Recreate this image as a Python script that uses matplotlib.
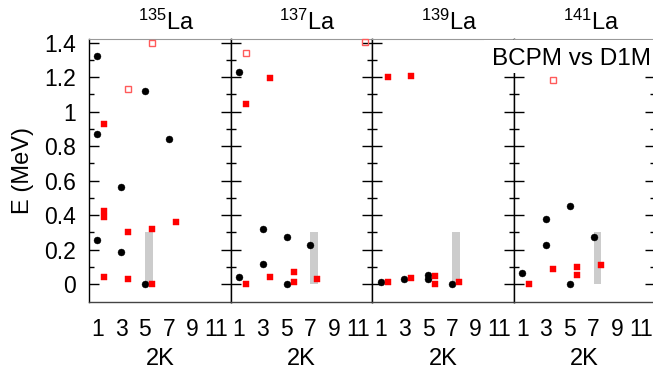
import numpy as np
import matplotlib
matplotlib.use("Agg")
import matplotlib.pyplot as plt
from matplotlib.patches import Rectangle

plt.rcParams["font.family"] = ["Liberation Sans", "DejaVu Sans"]
plt.rcParams["mathtext.fontset"] = "custom"
plt.rcParams["mathtext.rm"] = "Liberation Sans"
plt.rcParams["mathtext.it"] = "Liberation Sans:italic"

# nuclei (mass numbers) for the four panels
nuclei = ["135", "137", "139", "141"]

# BCPM (black dots): 2K and excitation energy (MeV)
bcpm_2k = [
    [1, 1, 1, 3, 3, 5, 5, 7],
    [1, 1, 3, 3, 5, 5, 7],
    [1, 3, 5, 5, 7],
    [1, 3, 3, 5, 5, 7],
]
bcpm_e = [
    [1.32, 0.87, 0.255, 0.563, 0.184, 1.12, 0.0, 0.84],
    [1.228, 0.042, 0.317, 0.114, 0.271, 0.0, 0.226],
    [0.013, 0.031, 0.05, 0.027, 0.0],
    [0.066, 0.375, 0.226, 0.452, 0.0, 0.274],
]

# D1M (red filled squares)
d1m_2k = [
    [1, 1, 1, 1, 3, 3, 5, 5, 7],
    [1, 1, 3, 3, 5, 5, 7],
    [1, 1, 3, 3, 5, 5, 7],
    [1, 3, 5, 5, 7],
]
d1m_e = [
    [0.928, 0.425, 0.39, 0.039, 0.30, 0.029, 0.317, 0.0, 0.36],
    [1.042, 0.0, 1.193, 0.039, 0.068, 0.01, 0.027],
    [1.199, 0.013, 1.208, 0.033, 0.045, 0.0, 0.01],
    [0.0, 0.085, 0.097, 0.05, 0.108],
]

# D1M (red open squares)
d1m_open_2k = [[3, 5], [1, 11], [], [3]]
d1m_open_e = [[1.133, 1.40], [1.342, 1.405], [], [1.183]]

# grey band (experimental ground-state band window)
band_2k = [5, 7, 7, 7]
band_top = [0.3, 0.3, 0.3, 0.3]

xticks = [1, 3, 5, 7, 9, 11]
yticks = [0, 0.2, 0.4, 0.6, 0.8, 1.0, 1.2, 1.4]
ytick_labels = ["0", "0.2", "0.4", "0.6", "0.8", "1", "1.2", "1.4"]

W, H = 653, 373
fig = plt.figure(figsize=(W / 100, H / 100), dpi=100)

left_px, top_px, bottom_px = 89, 39, 302
panel_w = 141.6
red_shift = 0.6

for i, nuc in enumerate(nuclei):
    x0 = left_px + i * panel_w
    ax = fig.add_axes([x0 / W, (H - bottom_px) / H, panel_w / W,
                       (bottom_px - top_px) / H])

    ax.bar(band_2k[i], band_top[i], width=0.65, align="edge",
           color="#cccccc", zorder=1)
    ax.plot(bcpm_2k[i], bcpm_e[i], "o", color="black", ms=5, mew=0.3,
            zorder=3)
    ax.plot(np.array(d1m_2k[i]) + red_shift, d1m_e[i], "s", color="red",
            ms=5, mew=0.3, zorder=3)
    if d1m_open_2k[i]:
        ax.plot(np.array(d1m_open_2k[i]) + red_shift, d1m_open_e[i], "s",
                mfc="none", mec="#ff5a5a", ms=5, mew=1.0, zorder=3,
                clip_on=False)

    ax.set_xlim(0.3, 12.2)
    ax.set_ylim(-0.104, 1.421)
    ax.set_xticks(xticks)
    ax.set_xticklabels([str(t) for t in xticks])
    ax.set_yticks(yticks)
    ax.set_yticks(np.arange(0.1, 1.41, 0.2), minor=True)
    ax.tick_params(axis="x", length=0, labelsize=16.5, pad=11.5)
    ax.tick_params(axis="y", which="both", direction="in", left=True,
                   right=True, labelsize=16.5, pad=9.5, width=1.0)
    ax.tick_params(axis="y", which="major", length=7.2)
    ax.tick_params(axis="y", which="minor", length=3.6)
    if i == 0:
        ax.set_yticklabels(ytick_labels)
    else:
        ax.set_yticklabels([])

    for side in ["left", "right"]:
        ax.spines[side].set_color("black")
        ax.spines[side].set_linewidth(1.0)
    ax.spines["top"].set_color("#999999")
    ax.spines["top"].set_linewidth(0.8)
    ax.spines["bottom"].set_color("#444444")
    ax.spines["bottom"].set_linewidth(1.0)

    ax.text(0.545, 1.034, r"$^{" + nuc + r"}$La", transform=ax.transAxes,
            ha="center", va="baseline", fontsize=17)
    ax.text(0.5, -0.2395, "2K", transform=ax.transAxes, ha="center",
            va="baseline", fontsize=17)

fig.text(22.5 / W, (H - 171) / H, "E (MeV)", rotation=90, ha="center",
         va="center", fontsize=17)

# white key box covering the upper-right corner
box = Rectangle((484 / W, (H - 73) / H), (W - 484) / W, (73 - 39.8) / H,
                transform=fig.transFigure, facecolor="white",
                edgecolor="none", zorder=4)
fig.add_artist(box)
fig.text(651 / W, (H - 65) / H, "BCPM vs D1M", ha="right", va="baseline",
         fontsize=17.5, zorder=5)

fig.savefig("out.png", dpi=100)
